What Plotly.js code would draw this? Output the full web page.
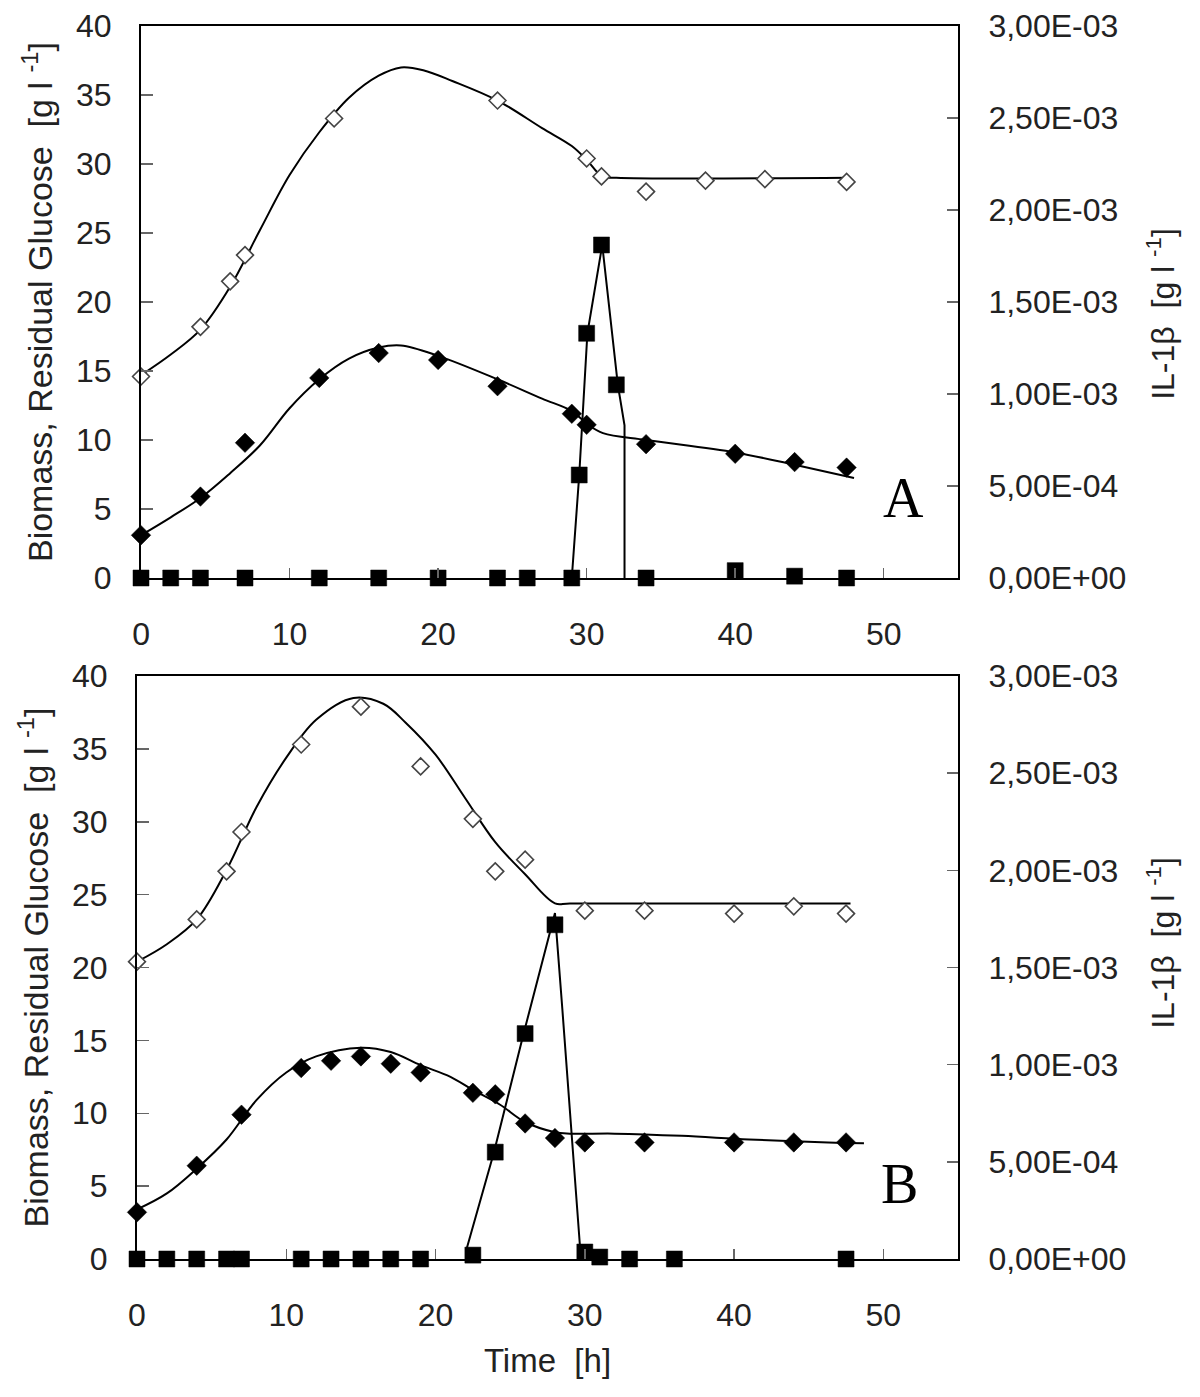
<!DOCTYPE html>
<html>
<head>
<meta charset="utf-8">
<script src="https://cdn.plot.ly/plotly-3.0.1.min.js"></script>
<style>
  html, body { margin: 0; padding: 0; background: #ffffff; }
  #chart { width: 1200px; height: 1397px; }
</style>
</head>
<body>
<div id="chart"></div>
<script>
// ---------------- Panel A data ----------------
const glcA_t   = [0, 4, 6, 7, 13, 24, 30, 31, 34, 38, 42, 47.5];
const glcA_val = [14.6, 18.2, 21.5, 23.4, 33.3, 34.6, 30.4, 29.1, 28.0, 28.8, 28.9, 28.7];

const bioA_t   = [0, 4, 7, 12, 16, 20, 24, 29, 30, 34, 40, 44, 47.5];
const bioA_val = [3.1, 5.9, 9.8, 14.5, 16.3, 15.8, 13.9, 11.9, 11.1, 9.7, 9.0, 8.4, 8.0];

const ilA_t    = [0, 2, 4, 7, 12, 16, 20, 24, 26, 29, 29.5, 30, 31, 32, 34, 40, 44, 47.5];
const ilA_val  = [0, 0, 0, 0, 0, 0, 0, 0, 0, 0, 0.00056, 0.00133, 0.00181, 0.00105, 0, 0.00004, 0.00001, 0];

// model fits, panel A
const glcFitA_t   = [0, 2, 4, 6, 8, 10, 12, 14, 16, 17.5, 19, 21, 24, 27, 29, 30, 31.05, 32, 47.6];
const glcFitA_val = [14.7, 16.2, 18.0, 21.1, 25.2, 29.2, 32.3, 34.8, 36.4, 37.0, 36.8, 36.0, 34.6, 32.6, 31.3, 30.3, 29.1, 29.0, 29.0];

const bioFitA_t   = [0, 2, 4, 6, 8, 10, 12, 14, 16, 17.5, 20, 24, 27, 29, 30.1, 31.1, 34, 40, 44, 48];
const bioFitA_val = [3.1, 4.4, 5.8, 7.6, 9.6, 12.3, 14.4, 15.9, 16.7, 16.85, 16.1, 14.4, 13.0, 12.1, 11.1, 10.5, 10.0, 9.1, 8.2, 7.25];

const ilFitA_t    = [29.0, 29.5, 30.05, 31.05, 32.1, 32.55, 32.55];
const ilFitA_val  = [0, 0.00056, 0.00133, 0.00181, 0.00105, 0.00083, 0];

// ---------------- Panel B data ----------------
const glcB_t   = [0, 4, 6, 7, 11, 15, 19, 22.5, 24, 26, 30, 34, 40, 44, 47.5];
const glcB_val = [20.4, 23.3, 26.6, 29.3, 35.3, 37.9, 33.8, 30.2, 26.6, 27.4, 23.9, 23.9, 23.7, 24.2, 23.7];

const bioB_t   = [0, 4, 7, 11, 13, 15, 17, 19, 22.5, 24, 26, 28, 30, 34, 40, 44, 47.5];
const bioB_val = [3.2, 6.4, 9.9, 13.1, 13.6, 13.9, 13.4, 12.8, 11.4, 11.3, 9.3, 8.3, 8.0, 8.0, 8.0, 8.0, 8.0];

const ilB_t    = [0, 2, 4, 6, 7, 11, 13, 15, 17, 19, 22.5, 24, 26, 28, 30, 31, 33, 36, 47.5];
const ilB_val  = [0, 0, 0, 0, 0, 0, 0, 0, 0, 0, 0.00002, 0.00055, 0.00116, 0.00172, 0.000036, 0.00001, 0, 0, 0];

// model fits, panel B
const glcFitB_t   = [0, 2, 4, 6, 8, 10, 12, 14.5, 16.5, 18, 20, 22, 24, 26, 28, 29, 47.8];
const glcFitB_val = [20.4, 21.6, 23.3, 26.7, 31.0, 34.4, 37.0, 38.5, 38.1, 36.8, 34.6, 31.6, 28.6, 26.4, 24.4, 24.4, 24.4];

const bioFitB_t   = [0, 2, 4, 6, 8, 10, 12, 15, 17, 19, 21, 22.5, 24.3, 26, 28, 29, 32, 36.5, 41, 46.3, 48.7];
const bioFitB_val = [3.4, 4.5, 6.2, 8.2, 10.9, 12.8, 13.9, 14.5, 14.2, 13.3, 12.5, 11.6, 10.6, 9.4, 8.7, 8.6, 8.6, 8.45, 8.2, 8.0, 7.95];

const ilFitB_t    = [22.06, 23.9, 25.9, 28.0, 28.5, 29.7];
const ilFitB_val  = [0.000046, 0.000545, 0.00116, 0.00178, 0.00128, 0.00004];

// ---------------- axis tick labels ----------------
const timeTicks   = [0, 10, 20, 30, 40, 50];
const leftTicks   = [0, 5, 10, 15, 20, 25, 30, 35, 40];
const rightTickVals = [0, 0.0005, 0.001, 0.0015, 0.002, 0.0025, 0.003];
const rightTickText = ["0,00E+00", "5,00E-04", "1,00E-03", "1,50E-03", "2,00E-03", "2,50E-03", "3,00E-03"];

const leftTitle  = "Biomass, Residual Glucose\u00a0\u00a0[g l <sup>-1</sup>]";
const rightTitle = "IL-1\u03b2\u00a0\u00a0[g l <sup>-1</sup>]";
const timeTitle  = "Time\u00a0\u00a0[h]\u00a0\u00a0\u00a0\u00a0";

// ---------------- styling ----------------
const FONT = "Liberation Sans, Arial, sans-serif";
const SERIF = "Liberation Serif, Times New Roman, serif";
const lineStyle = {color: "#000", width: 2};
const openDiamond = {symbol: "diamond", size: 13, color: "#ffffff", line: {color: "#444", width: 1.6}};
const fullDiamond = {symbol: "diamond", size: 15, color: "#000", line: {color: "#000", width: 0.5}};
const fullSquare  = {symbol: "square", size: 16, color: "#000", line: {color: "#000", width: 0.5}};

function fit(x, y, xa, ya, shape) {
  return {x: x, y: y, xaxis: xa, yaxis: ya, type: "scatter", mode: "lines",
          line: Object.assign({shape: shape, smoothing: 1}, lineStyle),
          cliponaxis: false, hoverinfo: "skip", showlegend: false};
}
function pts(x, y, xa, ya, marker, name) {
  return {x: x, y: y, xaxis: xa, yaxis: ya, type: "scatter", mode: "markers",
          marker: marker, name: name, cliponaxis: false, showlegend: false};
}

const traces = [
  fit(glcFitA_t, glcFitA_val, "x", "y", "spline"),
  fit(bioFitA_t, bioFitA_val, "x", "y", "spline"),
  pts(glcA_t, glcA_val, "x", "y", openDiamond, "Residual glucose A"),
  pts(bioA_t, bioA_val, "x", "y", fullDiamond, "Biomass A"),
  fit(ilFitA_t, ilFitA_val, "x", "y2", "linear"),
  pts(ilA_t, ilA_val, "x", "y2", fullSquare, "IL-1\u03b2 A"),

  fit(glcFitB_t, glcFitB_val, "x2", "y3", "spline"),
  fit(bioFitB_t, bioFitB_val, "x2", "y3", "spline"),
  pts(glcB_t, glcB_val, "x2", "y3", openDiamond, "Residual glucose B"),
  pts(bioB_t, bioB_val, "x2", "y3", fullDiamond, "Biomass B"),
  fit(ilFitB_t, ilFitB_val, "x2", "y4", "linear"),
  pts(ilB_t, ilB_val, "x2", "y4", fullSquare, "IL-1\u03b2 B")
];

const tickFont = {family: FONT, size: 32, color: "#222"};
const titleFont = {family: FONT, size: 34, color: "#222"};

function xAxis(domain, anchor, withTitle) {
  const ax = {
    domain: domain, anchor: anchor, range: [0, 55],
    tickmode: "array", tickvals: timeTicks,
    ticks: "inside", ticklen: 10, tickwidth: 1.5, tickcolor: "#666",
    showline: true, linewidth: 2, linecolor: "#000", mirror: true,
    showgrid: false, zeroline: false,
    tickfont: tickFont, ticklabelstandoff: 27
  };
  if (withTitle) ax.title = {text: timeTitle, font: {family: FONT, size: 33, color: "#222"}, standoff: 16};
  return ax;
}
function yLeft(domain, anchor) {
  return {
    domain: domain, anchor: anchor, range: [0, 40],
    tickmode: "array", tickvals: leftTicks,
    ticks: "inside", ticklen: 12, tickwidth: 1.5, tickcolor: "#666",
    showline: true, linewidth: 2, linecolor: "#000", mirror: true,
    showgrid: false, zeroline: false,
    tickfont: tickFont, ticklabelstandoff: 21,
    title: {text: leftTitle, font: titleFont, standoff: 13}
  };
}
function yRight(over, anchor) {
  return {
    overlaying: over, side: "right", anchor: anchor, range: [0, 0.003],
    tickmode: "array", tickvals: rightTickVals, ticktext: rightTickText,
    ticks: "inside", ticklen: 11, tickwidth: 1.5, tickcolor: "#666",
    showline: true, linewidth: 2, linecolor: "#000",
    showgrid: false, zeroline: false,
    tickfont: tickFont, ticklabelstandoff: 22
  };
}

const layout = {
  width: 1200, height: 1397,
  margin: {l: 137, r: 242, t: 26, b: 138},
  paper_bgcolor: "#ffffff", plot_bgcolor: "#ffffff",
  showlegend: false,
  font: {family: FONT, color: "#222"},
  xaxis:  xAxis([0.0049, 1], "y", false),
  yaxis:  yLeft([0.5523, 1], "x"),
  yaxis2: yRight("y", "x"),
  xaxis2: xAxis([0, 1], "y3", true),
  yaxis3: yLeft([0, 0.4728], "x2"),
  yaxis4: yRight("y3", "x2"),
  annotations: [
    {text: "A", xref: "x", yref: "y", x: 51.3, y: 5.8, showarrow: false,
     xanchor: "center", yanchor: "middle", font: {family: SERIF, size: 56, color: "#000"}},
    {text: "B", xref: "x2", yref: "y3", x: 51.1, y: 5.15, showarrow: false,
     xanchor: "center", yanchor: "middle", font: {family: SERIF, size: 56, color: "#000"}},
    {text: rightTitle, xref: "paper", yref: "paper", x: 1.247, y: 0.7664, showarrow: false,
     textangle: -90, xanchor: "center", yanchor: "middle", font: {family: FONT, size: 32, color: "#222"}},
    {text: rightTitle, xref: "paper", yref: "paper", x: 1.247, y: 0.2563, showarrow: false,
     textangle: -90, xanchor: "center", yanchor: "middle", font: {family: FONT, size: 32, color: "#222"}}
  ]
};

Plotly.newPlot("chart", traces, layout, {displayModeBar: false, staticPlot: true});
</script>
</body>
</html>
